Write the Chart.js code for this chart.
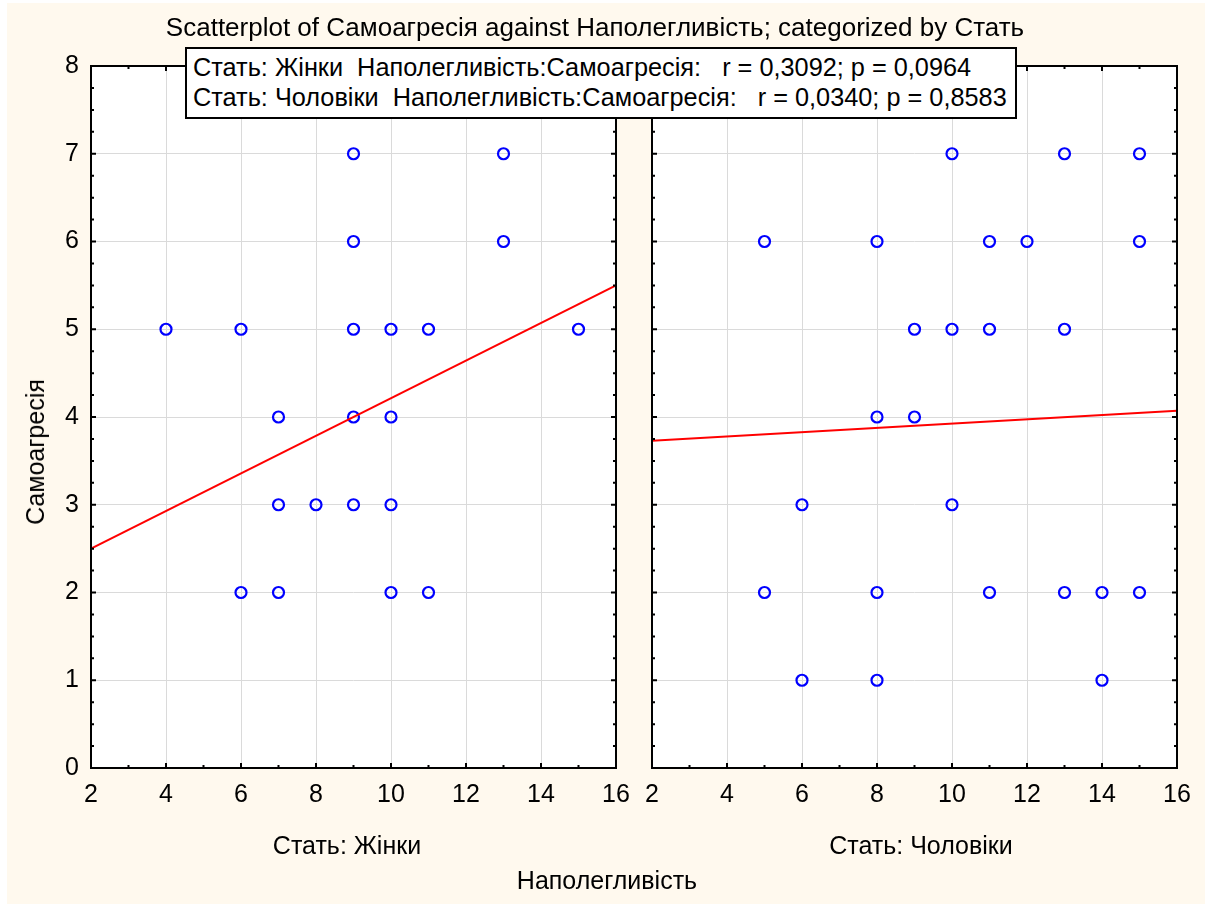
<!DOCTYPE html>
<html>
<head>
<meta charset="utf-8">
<script src="https://cdn.jsdelivr.net/npm/chart.js@4.4.1/dist/chart.umd.min.js"></script>
<style>
  html, body { margin:0; padding:0; background:#ffffff; }
  body { width:1214px; height:904px; position:relative; overflow:hidden; font-family:"Liberation Sans", Arial, sans-serif; color:#000; }
  #bg { position:absolute; left:7px; top:3px; width:1198px; height:901px; background:#fff9ee; }
  canvas { position:absolute; left:0; top:0; }
  .txt { position:absolute; font-size:25px; white-space:pre; line-height:28px; }
  #title { left:0; width:1190px; top:13px; text-align:center; font-size:26px; }
  #legend { position:absolute; left:185px; top:47px; width:822px; height:68px; border:2px solid #000; background:#fff; font-size:25.3px; line-height:30px; padding-left:6px; box-sizing:content-box; overflow:hidden; }
  #legend div { white-space:pre; }
  #sub1 { left:91px; width:512px; top:831px; text-align:center; }
  #sub2 { left:652px; width:538px; top:831px; text-align:center; }
  #xtitle { left:457px; width:300px; top:866px; text-align:center; }
  #ytitle { left:35px; top:452px; transform:translate(-50%,-50%) rotate(-90deg); }
</style>
</head>
<body>
<div id="bg"></div>
<canvas id="c1" width="1214" height="904"></canvas>
<canvas id="c2" width="1214" height="904"></canvas>
<div class="txt" id="title">Scatterplot of Самоагресія against Наполегливість; categorized by Стать</div>
<div id="legend"><div style="margin-top:3px">Стать: Жінки  Наполегливість:Самоагресія:   r = 0,3092; p = 0,0964</div><div>Стать: Чоловіки  Наполегливість:Самоагресія:   r = 0,0340; p = 0,8583</div></div>
<div class="txt" id="sub1">Стать: Жінки</div>
<div class="txt" id="sub2">Стать: Чоловіки</div>
<div class="txt" id="xtitle">Наполегливість</div>
<div class="txt" id="ytitle">Самоагресія</div>
<script>
// ---- data ----
const femaleX = [9, 13, 9, 13, 4, 6, 9, 10, 11, 15, 7, 9, 10, 7, 8, 9, 10, 6, 7, 10, 11];
const femaleY = [7, 7, 6, 6, 5, 5, 5, 5, 5, 5, 4, 4, 4, 3, 3, 3, 3, 2, 2, 2, 2];
const maleX = [10, 13, 15, 5, 8, 11, 12, 15, 9, 10, 11, 13, 8, 9, 6, 10, 5, 8, 11, 13, 14, 15, 6, 8, 14];
const maleY = [7, 7, 7, 6, 6, 6, 6, 6, 5, 5, 5, 5, 4, 4, 3, 3, 2, 2, 2, 2, 2, 2, 1, 1, 1];
const fitX = [2, 16];
const femaleFitY = [2.5, 5.5];
const maleFitY = [3.73, 4.07];
const xRange = [2, 16];
const yRange = [0, 8];

const FONT = { family: '"Liberation Sans", Arial, sans-serif', size: 25 };

function pts(xs, ys) { return xs.map((x, i) => ({ x: x, y: ys[i] })); }

const framePlugin = {
  id: 'frame',
  afterDraw(chart) {
    const ctx = chart.ctx, a = chart.chartArea;
    const xs = chart.scales.x, ys = chart.scales.y;
    ctx.save();
    ctx.strokeStyle = '#000';
    ctx.lineWidth = 2;
    ctx.beginPath();
    for (let v = xRange[0]; v <= xRange[1]; v += 1) {
      const p = xs.getPixelForValue(v);
      const len = (v % 2 === 0) ? 5 : 3;
      ctx.moveTo(p, a.bottom); ctx.lineTo(p, a.bottom - len);
      ctx.moveTo(p, a.top); ctx.lineTo(p, a.top + len);
    }
    for (let v = yRange[0]; v <= yRange[1]; v += 0.25) {
      const p = ys.getPixelForValue(v);
      const len = (Math.abs(v - Math.round(v)) < 1e-6) ? 5 : 3;
      ctx.moveTo(a.left, p); ctx.lineTo(a.left + len, p);
      ctx.moveTo(a.right, p); ctx.lineTo(a.right - len, p);
    }
    ctx.stroke();
    ctx.strokeRect(a.left, a.top, a.right - a.left, a.bottom - a.top);
    ctx.restore();
  }
};
const areaBg = {
  id: 'areaBg',
  beforeDraw(chart) {
    const ctx = chart.ctx, a = chart.chartArea;
    ctx.save();
    ctx.fillStyle = '#ffffff';
    ctx.fillRect(a.left, a.top, a.right - a.left, a.bottom - a.top);
    ctx.restore();
  }
};

function makeChart(id, xs, ys, fitY, left, right, showY) {
  return new Chart(document.getElementById(id), {
    type: 'scatter',
    data: {
      datasets: [
        { data: pts(fitX, fitY), showLine: true, borderColor: '#ff0000', borderWidth: 2, pointRadius: 0, order: 0 },
        { data: pts(xs, ys), pointStyle: 'circle', pointRadius: 5.5, borderWidth: 2.2, borderColor: '#0000ff', backgroundColor: 'rgba(0,0,0,0)', order: 1 }
      ]
    },
    options: {
      responsive: false,
      animation: false,
      events: [],
      layout: { padding: { left: left, right: right, top: 66, bottom: 0 } },
      plugins: { legend: { display: false }, title: { display: false }, tooltip: { enabled: false } },
      scales: {
        x: {
          type: 'linear', min: xRange[0], max: xRange[1],
          ticks: { stepSize: 2, autoSkip: false, maxRotation: 0, font: FONT, color: '#000', padding: 12 },
          grid: { color: '#dadada', lineWidth: 1, drawTicks: false },
          border: { display: false },
          afterFit: (s) => { s.height = 136; }
        },
        y: {
          type: 'linear', min: yRange[0], max: yRange[1],
          ticks: { stepSize: 1, display: showY, font: FONT, color: '#000', padding: 12 },
          grid: { color: '#dadada', lineWidth: 1, drawTicks: false },
          border: { display: false },
          afterFit: (s) => { s.width = showY ? 91 : 0; }
        }
      }
    },
    plugins: [areaBg, framePlugin]
  });
}

makeChart('c1', femaleX, femaleY, femaleFitY, 0, 598, true);
makeChart('c2', maleX, maleY, maleFitY, 652, 37, false);
</script>
</body>
</html>
